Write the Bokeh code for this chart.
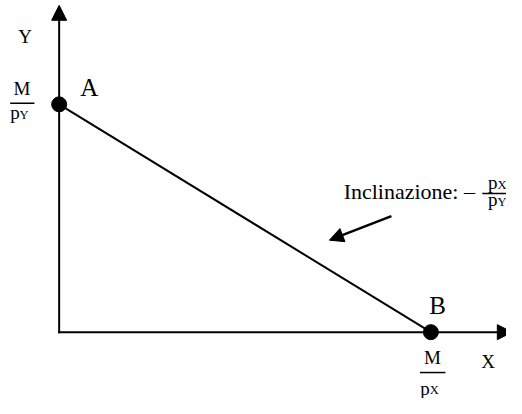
from bokeh.plotting import figure
from bokeh.models import Range1d, Arrow, NormalHead
from bokeh.core.properties import value
from bokeh.embed import file_html
from bokeh.resources import INLINE

# ---- data (diagram units) ----
axis_labels = ["X", "Y"]
intercept_x = 383.5          # M / pX  (point B)
intercept_y = 237.0          # M / pY  (point A)
point_labels = ["A", "B"]
point_x = [0.0, intercept_x]
point_y = [intercept_y, 0.0]
slope_label = "Inclinazione: –"
frac_num = "M"
price_sym = "p"
good_x, good_y = "X", "Y"

FONT = value("Liberation Serif")
YS = 398 / 414.0


def mid(baseline, size):
    # convert a text baseline (data units) to the em-box middle used by text_baseline="middle"
    return baseline + 0.3375 * size / YS


p = figure(width=506, height=398, x_range=Range1d(-60.5, 461.5), y_range=Range1d(-69, 345),
           output_backend="svg", toolbar_location=None,
           min_border=0, min_border_left=0, min_border_right=0, min_border_top=0, min_border_bottom=0)
p.axis.visible = False
p.grid.visible = False
p.outline_line_color = None
p.background_fill_color = "white"
p.border_fill_color = "white"

# axes with arrow heads
p.add_layout(Arrow(x_start=0, y_start=-1, x_end=0, y_end=340, line_width=2, line_color="black",
                   end=NormalHead(size=15, fill_color="black", line_color="black", line_width=1)))
p.add_layout(Arrow(x_start=-1, y_start=0, x_end=467.5, y_end=0, line_width=2, line_color="black",
                   end=NormalHead(size=15, fill_color="black", line_color="black", line_width=1)))

# budget line
p.line(point_x, point_y, line_width=2, line_color="black")
p.scatter(point_x, point_y, size=15, fill_color="black", line_color="black")

# slope pointer arrow
p.add_layout(Arrow(x_start=342.8, y_start=120.7, x_end=278.8, y_end=95.7, line_width=2.5, line_color="black",
                   end=NormalHead(size=14, fill_color="black", line_color="black", line_width=1)))

BIG, MED, SMALL, SLOPE = 25, 19, 12.5, 22

# point labels A, B
p.text(x=[point_x[0] + 31, point_x[1] + 7],
       y=[mid(point_y[0] + 8.5, BIG), mid(point_y[1] + 19, BIG)], text=point_labels,
       text_font=FONT, text_font_size=f"{BIG}px", text_align="center", text_baseline="middle", text_color="black")

# axis names
p.text(x=[442.5, -35], y=[mid(-36.7, MED), mid(301, MED)], text=[good_x, good_y],
       text_font=FONT, text_font_size=f"{MED}px", text_align="center", text_baseline="middle", text_color="black")

# fractions M/pY (left) and M/pX (bottom)
p.text(x=[-38.5, intercept_x + 1.7], y=[mid(intercept_y + 9.5, MED), mid(-33.3, MED)], text=[frac_num, frac_num],
       text_font=FONT, text_font_size=f"{MED}px", text_align="center", text_baseline="middle", text_color="black")
p.segment(x0=[-50.5, intercept_x - 11.3], y0=[intercept_y + 1, -42],
          x1=[-25.5, intercept_x + 15], y1=[intercept_y + 1, -42], line_width=1.5, line_color="black")
sub_base = [intercept_y - 15.5, -65, 149, 131.5]
p.text(x=[-50.5, intercept_x - 11, 442.5, 442.5], y=[mid(b, MED) for b in sub_base],
       text=[price_sym] * 4,
       text_font=FONT, text_font_size=f"{MED}px", text_align="left", text_baseline="middle", text_color="black")
p.text(x=[-40.8, intercept_x - 1.2, 452.2, 452.2], y=[mid(b, SMALL) for b in sub_base],
       text=[good_y, good_x, good_x, good_y],
       text_font=FONT, text_font_size=f"{SMALL}px", text_align="left", text_baseline="middle", text_color="black")

# slope annotation
p.text(x=[293.5], y=[mid(139, SLOPE)], text=[slope_label],
       text_font=FONT, text_font_size=f"{SLOPE}px", text_align="left", text_baseline="middle", text_color="black")
p.segment(x0=[436.5], y0=[144.3], x1=[466], y1=[144.3], line_width=1.5, line_color="black")

open("out.html", "w").write(file_html(p, INLINE))
